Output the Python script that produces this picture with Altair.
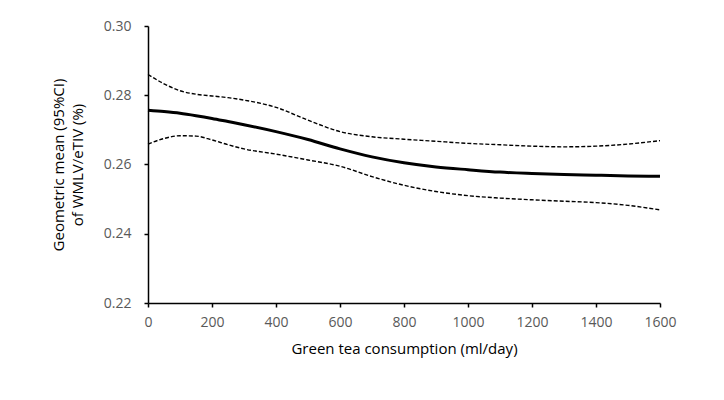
import altair as alt
import pandas as pd

tea = [0, 50, 100, 150, 200, 250, 300, 400, 500, 600, 700, 800, 900, 1000, 1100, 1200, 1300, 1400, 1500, 1600]
mean = [0.2757, 0.2753, 0.2748, 0.2741, 0.2733, 0.2724, 0.2715, 0.2695, 0.2672, 0.2645, 0.2622, 0.2605, 0.2593,
        0.2585, 0.2578, 0.2574, 0.2571, 0.2569, 0.2567, 0.2566]
upper = [0.2860, 0.2833, 0.2813, 0.2803, 0.2798, 0.2793, 0.2786, 0.2765, 0.2728, 0.2695, 0.2680, 0.2673, 0.2667,
         0.2661, 0.2657, 0.2653, 0.2651, 0.2653, 0.2659, 0.2669]
lower = [0.2659, 0.2675, 0.2683, 0.2682, 0.2671, 0.2657, 0.2645, 0.2630, 0.2613, 0.2595, 0.2565, 0.2540, 0.2522,
         0.2510, 0.2503, 0.2498, 0.2494, 0.2490, 0.2482, 0.2469]

df = pd.DataFrame({"tea": tea, "mean": mean, "upper": upper, "lower": lower})

FONT = "Open Sans"

x = alt.X("tea:Q",
          scale=alt.Scale(domain=[0, 1600], nice=False),
          axis=alt.Axis(title="Green tea consumption (ml/day)", values=list(range(0, 1601, 200)),
                        format="d", titlePadding=12, labelPadding=8, labelFlush=False))
yax = alt.Axis(title=["Geometric mean (95%CI)", "of WMLV/eTIV (%)"],
               values=[0.22, 0.24, 0.26, 0.28, 0.30], format=".2f", titlePadding=18,
               labelPadding=13, titleLineHeight=19)
yscale = alt.Scale(domain=[0.22, 0.30], nice=False)

base = alt.Chart(df)
m = base.mark_line(color="black", strokeWidth=3, interpolate="monotone").encode(
    x=x, y=alt.Y("mean:Q", scale=yscale, axis=yax))
u = base.mark_line(color="black", strokeWidth=1.4, strokeDash=[4, 2], interpolate="monotone").encode(
    x=x, y=alt.Y("upper:Q", scale=yscale, axis=yax))
l = base.mark_line(color="black", strokeWidth=1.4, strokeDash=[4, 2], interpolate="monotone").encode(
    x=x, y=alt.Y("lower:Q", scale=yscale, axis=yax))

chart = alt.layer(m, u, l).properties(
    width=512, height=277,
    autosize=alt.AutoSizeParams(type="none"),
    padding={"left": 148, "top": 26, "right": 64, "bottom": 97},
    background="white",
).configure_view(stroke=None).configure_axis(
    grid=False,
    domainColor="black",
    domainWidth=1.5,
    tickColor="black",
    tickWidth=1.5,
    tickSize=4,
    labelFont=FONT,
    labelFontSize=14,
    labelColor="#595959",
    titleFont=FONT,
    titleFontSize=15,
    titleFontWeight="normal",
    titleColor="black",
)

chart.save("out.html", embed_options={"renderer": "svg", "actions": False})
